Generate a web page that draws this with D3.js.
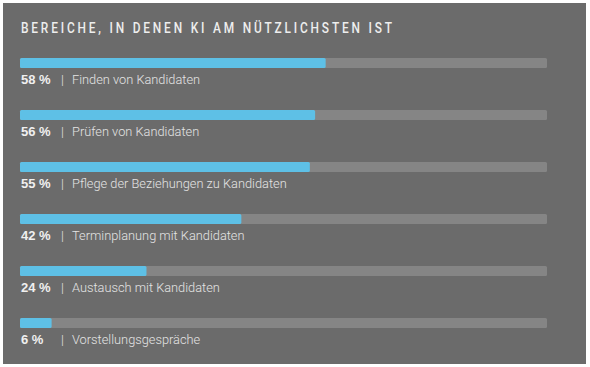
<!DOCTYPE html>
<html>
<head>
<meta charset="utf-8">
<script src="https://cdn.jsdelivr.net/npm/d3@7"></script>
<style>
  body { margin: 0; background: #fff; }
  svg { display: block; }
</style>
</head>
<body>
<div id="chart"></div>
<script>
// Data
var title = "BEREICHE, IN DENEN KI AM NÜTZLICHSTEN IST";
var categories = [
    "Finden von Kandidaten",
    "Prüfen von Kandidaten",
    "Pflege der Beziehungen zu Kandidaten",
    "Terminplanung mit Kandidaten",
    "Austausch mit Kandidaten",
    "Vorstellungsgespräche"
];
var values = [58, 56, 55, 42, 24, 6];

var width = 590, height = 367;

var svg = d3.select("#chart").append("svg")
    .attr("width", width)
    .attr("height", height);

// Panel background
svg.append("rect")
    .attr("x", 3)
    .attr("y", 3)
    .attr("width", 583)
    .attr("height", 361)
    .attr("fill", "#6b6b6b");

// Title (narrow glyphs, wide letter spacing)
svg.append("text")
    .attr("transform", "translate(21,33) scale(0.85,1)")
    .attr("fill", "#eeeeee")
    .attr("font-family", "Roboto, sans-serif")
    .attr("font-weight", 500)
    .attr("font-size", 14)
    .attr("textLength", 371 / 0.85)
    .attr("lengthAdjust", "spacing")
    .text(title);

// Scales
var x = d3.scaleLinear().domain([0, 100]).range([20, 547]);
var y = d3.scaleBand().domain(categories).range([58, 370]).paddingInner(0);

var rows = svg.selectAll("g.row")
    .data(categories)
    .enter()
    .append("g")
    .attr("class", "row")
    .attr("transform", function (d) { return "translate(0," + y(d) + ")"; });

// Track
rows.append("rect")
    .attr("x", x(0))
    .attr("y", 0)
    .attr("width", x(100) - x(0))
    .attr("height", 10)
    .attr("rx", 1.5)
    .attr("fill", "#858585");

// Value bar
rows.append("rect")
    .attr("x", x(0))
    .attr("y", 0)
    .attr("width", function (d, i) { return x(values[i]) - x(0); })
    .attr("height", 10)
    .attr("rx", 1.5)
    .attr("fill", "#5ec0e6");

// Labels
rows.append("text")
    .attr("x", 21)
    .attr("y", 26)
    .attr("font-family", "'Liberation Sans', Arial, sans-serif")
    .attr("font-weight", "bold")
    .attr("font-size", 13)
    .attr("fill", "#f0f0f0")
    .text(function (d, i) { return values[i] + " %"; });

rows.append("text")
    .attr("x", 61)
    .attr("y", 26)
    .attr("font-family", "Roboto, 'Liberation Sans', sans-serif")
    .attr("font-weight", 300)
    .attr("font-size", 13)
    .attr("fill", "#e4e4e4")
    .text("|");

rows.append("text")
    .attr("x", 72)
    .attr("y", 26)
    .attr("font-family", "Roboto, 'Liberation Sans', sans-serif")
    .attr("font-weight", 300)
    .attr("font-size", 12.8)
    .attr("fill", "#e4e4e4")
    .text(function (d) { return d; });
</script>
</body>
</html>
